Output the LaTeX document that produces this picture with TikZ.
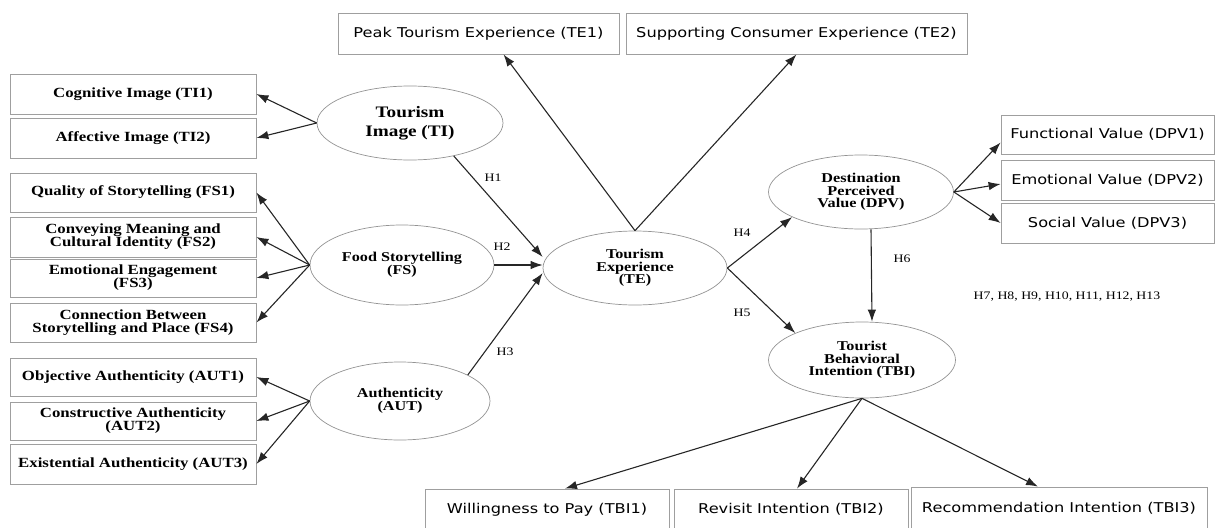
\documentclass[tikz,border=0pt]{standalone}
\usepackage{fontspec}
\setmainfont{Liberation Serif}[FakeStretch=1.2]
\newfontfamily\itemsans{DejaVu Sans}[FakeStretch=1.2]
\usetikzlibrary{shapes.geometric,arrows.meta}

\begin{document}
\begin{tikzpicture}[
        x=1pt, y=-1pt,
        item_box/.style={draw=gray!75, line width=0.8pt, minimum width=246pt, inner sep=1pt, align=center, font=\fontsize{14}{13}\selectfont\bfseries},
        sans_box/.style={draw=gray!75, line width=0.8pt, inner sep=1pt, font=\itemsans\fontsize{13.5}{16}\selectfont},
        construct/.style={ellipse, draw=gray!85, line width=0.7pt, align=center, inner sep=0pt, font=\fontsize{13.5}{12.5}\selectfont\bfseries},
        path_arrow/.style={-{Latex[length=12pt,width=8.5pt]}, line width=1.1pt, draw=black!85},
        hyp_label/.style={font=\fontsize{11.5}{14}\selectfont} % hypothesis tags
    ]
    \useasboundingbox (0,0) rectangle (1217,527);

    % --- Constructs ---
    \node[construct, minimum width=186pt, minimum height=74pt, font=\fontsize{16}{19}\selectfont\bfseries] (ti) at (410,123) {Tourism\\Image (TI)};
    \node[construct, minimum width=184pt, minimum height=80pt, font=\fontsize{13.5}{13}\selectfont\bfseries] (fs) at (402,265) {Food Storytelling\\(FS)};
    \node[construct, minimum width=180pt, minimum height=78pt, font=\fontsize{13.5}{13}\selectfont\bfseries] (aut) at (400,401) {Authenticity\\(AUT)};
    \node[construct, minimum width=184pt, minimum height=74pt] (te) at (635,268) {Tourism\\Experience\\(TE)};
    \node[construct, minimum width=185pt, minimum height=74pt] (dpv) at (861,192) {Destination\\Perceived\\Value (DPV)};
    \node[construct, minimum width=187pt, minimum height=76pt] (tbi) at (862,360) {Tourist\\Behavioral\\Intention (TBI)};

    % Left indicators
    \node[item_box, minimum height=40pt] (ti1) at (133,94) {Cognitive Image (TI1)};
    \node[item_box, minimum height=40pt] (ti2) at (133,138) {Affective Image (TI2)};

    \node[item_box, minimum height=39pt] (fs1) at (133,192.5) {Quality of Storytelling (FS1)};
    \node[item_box, minimum height=40pt] (fs2) at (133,237) {Conveying Meaning and\\Cultural Identity (FS2)};
    \node[item_box, minimum height=38pt] (fs3) at (133,278) {Emotional Engagement\\(FS3)};
    \node[item_box, minimum height=39pt] (fs4) at (133,322.5) {Connection Between\\Storytelling and Place (FS4)};

    \node[item_box, minimum height=38pt] (aut1) at (133,377) {Objective Authenticity (AUT1)};
    \node[item_box, minimum height=38pt] (aut2) at (133,421) {Constructive Authenticity\\(AUT2)};
    \node[item_box, minimum height=40pt] (aut3) at (133,464) {Existential Authenticity (AUT3)};

    % Top indicators
    \node[sans_box, minimum width=281pt, minimum height=41pt] (te1) at (478.5,33.5) {Peak Tourism Experience (TE1)};
    \node[sans_box, minimum width=341pt, minimum height=41pt] (te2) at (796.5,33.5) {Supporting Consumer Experience (TE2)};

    % Right indicators
    \node[sans_box, minimum width=213pt, minimum height=39pt] (dpv1) at (1107.5,134.5) {Functional Value (DPV1)};
    \node[sans_box, minimum width=213pt, minimum height=40pt] (dpv2) at (1107.5,180) {Emotional Value (DPV2)};
    \node[sans_box, minimum width=213pt, minimum height=40pt] (dpv3) at (1107.5,223) {Social Value (DPV3)};

    % Bottom indicators
    \node[sans_box, minimum width=244pt, minimum height=41pt] (tbi1) at (547,509.5) {Willingness to Pay (TBI1)};
    \node[sans_box, minimum width=234pt, minimum height=41pt] (tbi2) at (791,509.5) {Revisit Intention (TBI2)};
    \node[sans_box, minimum width=296pt, minimum height=43pt] (tbi3) at (1059,508.5) {Recommendation Intention (TBI3)};

    % --- Measurement arrows ---
    \draw[path_arrow] (ti.west) -- (ti1.east);
    \draw[path_arrow] (ti.west) -- (ti2.east);

    \draw[path_arrow] (fs.west) -- (fs1.east);
    \draw[path_arrow] (fs.west) -- (fs2.east);
    \draw[path_arrow] (fs.west) -- (fs3.east);
    \draw[path_arrow] (fs.west) -- (fs4.east);

    \draw[path_arrow] (aut.west) -- (aut1.east);
    \draw[path_arrow] (aut.west) -- (aut2.east);
    \draw[path_arrow] (aut.west) -- (aut3.east);

    \draw[path_arrow] (te.north) -- ([xshift=25pt]te1.south);
    \draw[path_arrow] (te.north) -- (te2.south);

    \draw[path_arrow] (dpv.east) -- ([yshift=-8pt]dpv1.west);
    \draw[path_arrow] (dpv.east) -- ([yshift=-4pt]dpv2.west);
    \draw[path_arrow] (dpv.east) -- (dpv3.west);

    \draw[path_arrow] (tbi.south) -- ([xshift=18pt]tbi1.north);
    \draw[path_arrow] (tbi.south) -- ([xshift=6pt]tbi2.north);
    \draw[path_arrow] (tbi.south) -- ([xshift=-21pt]tbi3.north);

    % --- Structural paths ---
    \draw[path_arrow] (ti.-37) -- ([yshift=11pt]te.west);
    \draw[path_arrow] (fs.east) -- (fs.east -| te.west);
    \draw[path_arrow] (aut.21) -- ([yshift=-5pt]te.west);
    \draw[path_arrow] (te.east) -- (dpv.200);
    \draw[path_arrow] (te.east) -- (tbi.158);
    \draw[path_arrow] ([xshift=10pt]dpv.south) -- ([xshift=10pt]tbi.north);

    % Hypothesis labels
    \node[hyp_label] (h1) at (493,178) {H1};
    \node[hyp_label] (h2) at (502,247) {H2};
    \node[hyp_label] (h3) at (505,352) {H3};
    \node[hyp_label] (h4) at (742,233) {H4};
    \node[hyp_label] (h5) at (742,313) {H5};
    \node[hyp_label] (h6) at (902,259) {H6};
    \node[hyp_label] (hrest) at (1067,297) {H7, H8, H9, H10, H11, H12, H13};

\end{tikzpicture}
\end{document}
